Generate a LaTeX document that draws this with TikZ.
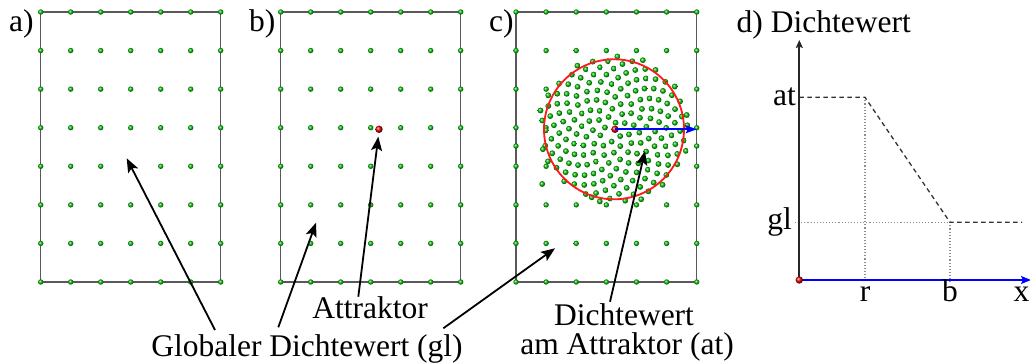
\documentclass[tikz,border=0pt]{standalone}
\usepackage{fontspec}
\setmainfont{Liberation Serif}
\usetikzlibrary{arrows.meta}
\begin{document}
\begin{tikzpicture}[x=1pt,y=-1pt,
  lbl/.style={font=\fontsize{31.5}{38}\selectfont, inner sep=0pt},
  frame/.style={draw=black!65, line width=1.3pt},
  gdot/.style={ball color=green!75!black},
  rdot/.style={ball color=red!85!black},
  pointer/.style={line width=1.8pt, -{Stealth[length=14pt,width=11pt,inset=3pt]}},
  guide/.style={draw=black!45, dotted, line width=1.1pt},
  curve/.style={draw=black!80, line width=1.3pt, dash pattern=on 4.5pt off 3.5pt},
]
\useasboundingbox (0,0) rectangle (1030,363);

% ---------- panels a and b ----------
\foreach \ox in {40.7,280.7} {
  \draw[frame] (\ox,12) rectangle (\ox+180,282);
  \foreach \i in {0,...,6} {
    \foreach \j in {0,...,7} {
      \shade[gdot] (\ox+30*\i,12+38.57*\j) circle[radius=2.7pt];
    }
  }
}
\shade[rdot] (379,129.3) circle[radius=3.7pt];

% ---------- panel c ----------
\draw[frame] (516,12) rectangle (696.7,282);
\foreach \i in {0,...,6} {
  \foreach \j in {0,...,7} {
    \pgfmathsetmacro\gx{516+30.12*\i}
    \pgfmathsetmacro\gy{12+38.57*\j}
    \pgfmathsetmacro\dd{veclen(\gx-615,\gy-129.3)}
    \ifdim\dd pt>66pt
      \shade[gdot] (\gx,\gy) circle[radius=2.7pt];
    \fi
  }
}
\shade[gdot] (516,146) circle[radius=2.7pt];
\shade[gdot] (696.7,146) circle[radius=2.7pt];
\foreach \k in {2,...,190} {
  \pgfmathsetmacro\rr{75*sqrt((\k-0.5)/190)}
  \pgfmathsetmacro\ff{\k*0.381966}
  \pgfmathsetmacro\aa{360*(\ff-floor(\ff))}
  \shade[gdot] ({615+\rr*cos(\aa)},{129.3+\rr*sin(\aa)}) circle[radius=2.9pt];
}
\foreach \px/\py in {540.5/110.5, 542.2/184, 542.9/149.2, 591.7/197.3, 686.7/115} {
  \shade[gdot] (\px,\py) circle[radius=2.9pt];
}
\draw[red!90, line width=1.8pt] (614,129.3) circle[radius=70pt];
\shade[rdot] (615,129.3) coordinate (cc) circle[radius=3.7pt];
\coordinate (cend) at (696.7,129.3);
\draw[blue, line width=1.6pt, -{Stealth[length=11pt,width=8pt,inset=2pt]}] (cc) -- (cend);

% ---------- panel labels ----------
\node[lbl, anchor=base west] (la) at (9,32) {a)};
\node[lbl, anchor=base west] (lb) at (249,32) {b)};
\node[lbl, anchor=base west] (lc) at (489,32) {c)};
\node[lbl, anchor=base west] (ld) at (736.5,33) {d) Dichtewert};

% ---------- panel d ----------
\coordinate (O) at (799.3,280);
\coordinate (ytip) at (799.3,40);
\coordinate (xtip) at (1031,280);
\coordinate (atR) at (865,97.3);
\coordinate (atL) at (799.3,97.3);
\coordinate (glB) at (950,222.3);
\coordinate (glL) at (795,222.3);
\coordinate (glEnd) at (1022,222.3);
\coordinate (rB) at (865,283);
\coordinate (bB) at (950,283);
\draw[guide] (atR) -- (rB);
\draw[guide] (glL) -- (glB) -- (bB);
\draw[curve] (atL) -- (atR) -- (glB) -- (glEnd);
\draw[black!85, line width=1.7pt, -{Stealth[length=8pt,width=7pt,inset=1.5pt]}] (O) -- (ytip);
\draw[blue, line width=1.6pt, -{Stealth[length=10pt,width=8pt,inset=2pt]}] (O) -- (xtip);
\shade[rdot] (O) circle[radius=3.7pt];
\node[lbl, anchor=base east] (lat) at (796,105.5) {at};
\node[lbl, anchor=base east] (lgl) at (792,230) {gl};
\node[lbl, anchor=base] (lr) at (865,301) {r};
\node[lbl, anchor=base] (lbb) at (950,301) {b};
\node[lbl, anchor=base] (lx) at (1021.5,301) {x};

% ---------- bottom labels and pointers ----------
\node[lbl, anchor=base] (attr) at (370,318.3) {Attraktor};
\node[lbl, anchor=base] (glob) at (307,356.7) {Globaler Dichtewert (gl)};
\node[lbl, anchor=base] (dv1) at (624,325) {Dichtewert};
\node[lbl, anchor=base] (dv2) at (627,354) {am Attraktor (at)};

\coordinate (aFrom) at (215,330);
\coordinate (aTip) at (126.7,158.3);
\coordinate (bFrom) at (278.3,327.3);
\coordinate (bTip) at (316,222.7);
\coordinate (attFrom) at (358.3,296.7);
\coordinate (attTip) at (378.3,136.7);
\coordinate (cFrom) at (443.3,328.3);
\coordinate (cTip) at (555,248.3);
\coordinate (dvFrom) at (610,301.7);
\coordinate (dvTip) at (645,151);
\draw[pointer] (aFrom) -- (aTip);
\draw[pointer] (bFrom) -- (bTip);
\draw[pointer] (attFrom) -- (attTip);
\draw[pointer] (cFrom) -- (cTip);
\draw[pointer] (dvFrom) -- (dvTip);
\end{tikzpicture}
\end{document}
